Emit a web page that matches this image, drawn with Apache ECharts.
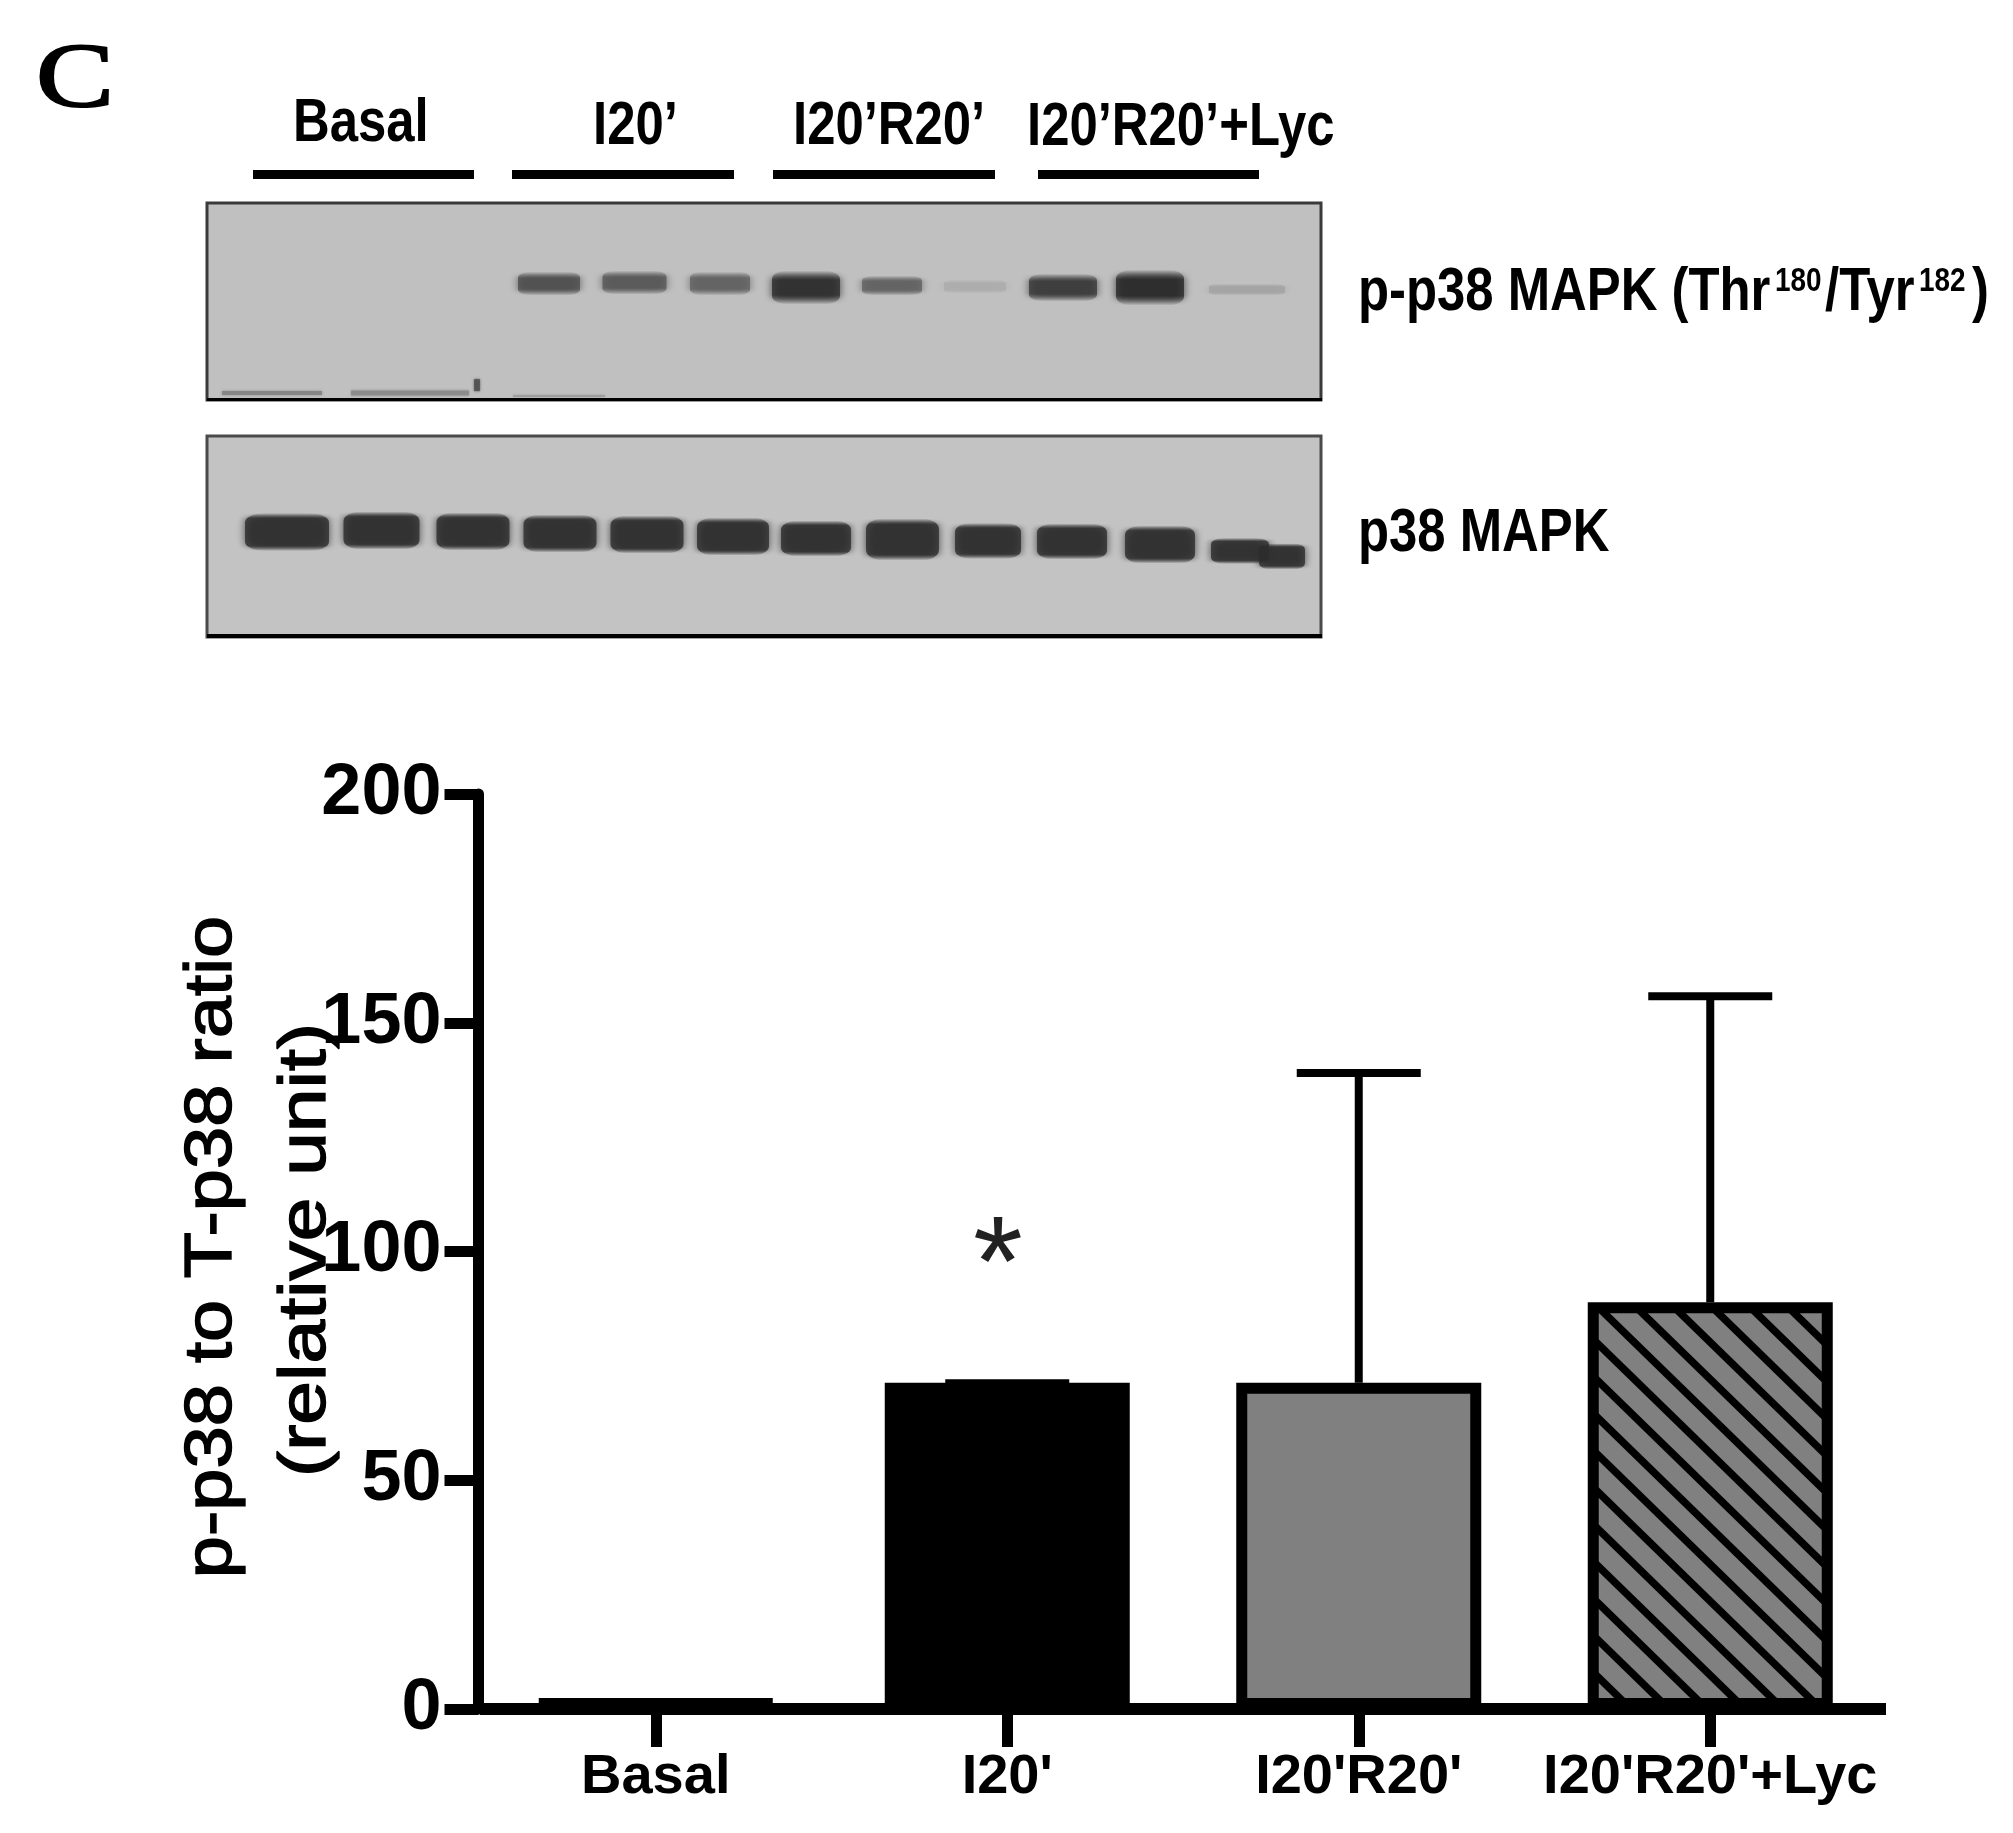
<!DOCTYPE html>
<html>
<head>
<meta charset="utf-8">
<style>html,body{margin:0;padding:0;background:#fff}#c{width:2013px;height:1833px;filter:blur(0.6px)}</style>
<script src="https://cdn.jsdelivr.net/npm/echarts@6/dist/echarts.min.js"></script>
</head>
<body>
<div id="c"></div>
<script>
// ---- bar chart data ----
var categories = ['Basal', "I20'", "I20'R20'", "I20'R20'+Lyc"];
var ratioMean = [2.4, 71.3, 71.3, 88.9];
var ratioUpper = [null, 71.2, 139, 155.8];
var yTicks = [0, 50, 100, 150, 200];

// ---- blot data (gel coordinates) ----
var phosphoLane = [342, 427.5, 513, 599, 685, 768, 856, 943, 1040];
var phosphoMigration = [81, 80, 81, 85, 83, 84, 85, 85, 87];
var phosphoDensity = [0.70, 0.64, 0.58, 0.90, 0.58, 0.12, 0.82, 0.92, 0.18];
var phosphoSpread = [62, 64, 60, 68, 60, 62, 68, 68, 76];
var phosphoThick = [24, 24, 24, 34, 20, 14, 28, 36, 12];

var smearLane = [65, 203, 352, 270];
var smearMigration = [191, 191, 194, 183];
var smearDensity = [0.38, 0.34, 0.24, 0.7];
var smearSpread = [100, 118, 92, 6];
var smearThick = [4, 5, 2, 12];

var totalLane = [80, 174.5, 266, 353, 440, 526, 609, 695.5, 781, 865, 953, 1033, 1075];
var totalMigration = [96.5, 95, 96, 98, 99, 101, 103, 104, 105.5, 106, 109, 115.5, 121];
var totalDensity = [0.9, 0.9, 0.9, 0.9, 0.9, 0.9, 0.9, 0.9, 0.9, 0.9, 0.9, 0.9, 0.9];
var totalSpread = [84, 76, 73, 73, 73, 72, 70, 73, 66, 70, 70, 58, 46];
var totalThick = [38, 38, 38, 38, 38, 38, 36, 42, 36, 36, 38, 26, 26];

function shadeValue(d) { return Math.round(192 - d * 165); }
function bands(lane, mig, dens, spread, thick, core) {
  return lane.map(function (x, i) {
    var v = shadeValue(dens[i]);
    var on = 'rgb(' + v + ',' + v + ',' + v + ')';
    var off = 'rgba(' + v + ',' + v + ',' + v + ',0)';
    return {
      value: [x, mig[i]],
      symbolSize: [spread[i], thick[i]],
      itemStyle: {
        color: { type: 'linear', x: 0, y: 0, x2: 0, y2: 1, colorStops: [
          { offset: 0, color: off }, { offset: core, color: on },
          { offset: 1 - core, color: on }, { offset: 1, color: off }
        ] },
        shadowColor: on, shadowBlur: 8
      }
    };
  });
}
function flat(lane, mig, dens, spread, thick) {
  return lane.map(function (x, i) {
    var v = shadeValue(dens[i]);
    var c = 'rgb(' + v + ',' + v + ',' + v + ')';
    return { value: [x, mig[i]], symbolSize: [spread[i], thick[i]], itemStyle: { color: c, shadowColor: c, shadowBlur: 3 } };
  });
}

// hatch tile
function hatch() {
  var W = 38, H = 37, off = 10;
  var c = document.createElement('canvas');
  c.width = W; c.height = H;
  var g = c.getContext('2d');
  g.fillStyle = '#808080';
  g.fillRect(0, 0, W, H);
  g.strokeStyle = '#000';
  g.lineWidth = 7.5;
  for (var k = -2; k <= 2; k++) {
    g.beginPath();
    g.moveTo(-W, -H + off + k * H);
    g.lineTo(2 * W, 2 * H + off + k * H);
    g.stroke();
  }
  return c;
}
var barFills = ['#000000', '#000000', '#808080', { image: hatch(), repeat: 'repeat' }];

var SANS = '"Liberation Sans", Arial, sans-serif';
var NARROW = 0.82;
var BASE = 0.31; // distance from mid-box to baseline, in em

function label(text, xLeft, baseline, size, sx, opts) {
  opts = opts || {};
  var st = {
    text: text, fill: opts.fill || '#000', fontFamily: opts.family || SANS,
    fontSize: size, fontWeight: opts.weight || 'bold',
    textAlign: 'left', textVerticalAlign: 'middle'
  };
  if (opts.stroke) { st.stroke = '#000'; st.lineWidth = opts.stroke; }
  return { type: 'text', x: xLeft, y: baseline - BASE * size, scaleX: sx, z: 20, style: st };
}
function rotated(text, baselineX, centerY, size, sx) {
  return {
    type: 'text', x: baselineX - BASE * size, y: centerY, rotation: Math.PI / 2, scaleX: sx, z: 20,
    style: {
      text: text, fill: '#000', fontFamily: SANS, fontSize: size,
      textAlign: 'center', textVerticalAlign: 'middle',
      stroke: '#000', lineWidth: 1.4
    }
  };
}
function rule(x0, x1, y, h) {
  return { type: 'rect', z: 10, shape: { x: x0, y: y, width: x1 - x0, height: h }, style: { fill: '#000' } };
}

var blotAxis = function (idx, w, h) {
  return {
    x: { type: 'value', gridIndex: idx, min: 0, max: w, show: false },
    y: { type: 'value', gridIndex: idx, min: 0, max: h, inverse: true, show: false }
  };
};
var a1 = blotAxis(1, 1114, 198), a2 = blotAxis(2, 1114, 202);

var chart = echarts.init(document.getElementById('c'), null, { renderer: 'canvas' });
chart.setOption({
  animation: false,
  backgroundColor: '#ffffff',
  grid: [
    { left: 480, top: 794, width: 1406, height: 915 },
    { left: 207, top: 203, width: 1114, height: 197, show: true, backgroundColor: '#c0c0c0', borderColor: '#3a3a3a', borderWidth: 3 },
    { left: 207, top: 436, width: 1114, height: 201, show: true, backgroundColor: '#c3c3c3', borderColor: '#4a4a4a', borderWidth: 3 }
  ],
  xAxis: [
    {
      type: 'category', gridIndex: 0, data: categories,
      axisLine: { lineStyle: { color: '#000', width: 12, cap: 'butt' } },
      axisTick: { show: true, alignWithLabel: true, length: 38, lineStyle: { color: '#000', width: 11 } },
      axisLabel: { color: '#000', fontFamily: SANS, fontWeight: 'bold', fontSize: 56, margin: 41, interval: 0 }
    },
    a1.x, a2.x
  ],
  yAxis: [
    {
      type: 'value', gridIndex: 0, min: 0, max: 200, interval: 50, offset: 1.5,
      axisLine: { show: true, lineStyle: { color: '#000', width: 11 } },
      axisTick: { show: true, length: 34, lineStyle: { color: '#000', width: 11 } },
      splitLine: { show: false },
      axisLabel: { color: '#000', fontFamily: SANS, fontWeight: 'bold', fontSize: 72, margin: 37,
        formatter: function (v) { return yTicks.indexOf(v) >= 0 ? String(v) : ''; } }
    },
    a1.y, a2.y
  ],
  series: [
    {
      type: 'bar', xAxisIndex: 0, yAxisIndex: 0, barWidth: 245, z: 3,
      data: ratioMean.map(function (v, i) {
        return { value: v, itemStyle: { color: barFills[i], borderColor: '#000', borderWidth: 11 } };
      })
    },
    {
      type: 'custom', xAxisIndex: 0, yAxisIndex: 0, z: 2,
      data: ratioUpper.map(function (u, i) { return [i, ratioMean[i], u === null ? '-' : u]; }),
      encode: { x: 0, y: [1, 2] },
      renderItem: function (params, api) {
        var upper = api.value(2);
        if (isNaN(upper)) { return null; }
        var base = api.coord([api.value(0), api.value(1)]);
        var top = api.coord([api.value(0), upper]);
        return {
          type: 'group',
          children: [
            { type: 'rect', shape: { x: base[0] - 4, y: top[1], width: 8, height: Math.max(0, base[1] - top[1]) }, style: { fill: '#000' } },
            { type: 'rect', shape: { x: base[0] - 62, y: top[1] - 4, width: 124, height: 8 }, style: { fill: '#000' } }
          ]
        };
      }
    },
    {
      type: 'scatter', xAxisIndex: 1, yAxisIndex: 1, symbol: 'roundRect', silent: true,
      data: bands(phosphoLane, phosphoMigration, phosphoDensity, phosphoSpread, phosphoThick, 0.28)
    },
    {
      type: 'scatter', xAxisIndex: 1, yAxisIndex: 1, symbol: 'rect', silent: true,
      data: flat(smearLane, smearMigration, smearDensity, smearSpread, smearThick)
    },
    {
      type: 'scatter', xAxisIndex: 2, yAxisIndex: 2, symbol: 'roundRect', silent: true,
      data: bands(totalLane, totalMigration, totalDensity, totalSpread, totalThick, 0.14)
    }
  ],
  graphic: { elements: [
    label('C', 36, 110, 90, 1.3, { family: '"Liberation Serif", serif', weight: 'normal', stroke: 2 }),
    label('Basal', 293, 143, 62, NARROW),
    label('I20\u2019', 593, 146, 62, NARROW),
    label('I20\u2019R20\u2019', 793, 146, 62, NARROW),
    label('I20\u2019R20\u2019+Lyc', 1027, 147, 62, NARROW),
    rule(253, 474, 170, 9), rule(512, 734, 170, 9), rule(773, 995, 170, 9), rule(1038, 1259, 170, 9),
    rule(207, 1322, 398, 3), rule(207, 1322, 634, 4),
    label('p-p38 MAPK (Thr', 1358, 312, 62, NARROW),
    label('180', 1775, 292, 34, NARROW),
    label('/Tyr', 1825, 312, 62, NARROW),
    label('182', 1919, 292, 34, NARROW),
    label(')', 1972, 312, 62, NARROW),
    label('p38 MAPK', 1358, 553, 62, NARROW),
    rotated('p-p38 to T-p38 ratio', 233, 1247, 66, 1.15),
    rotated('(relative unit)', 327, 1250, 66, 1.19),
    { type: 'text', x: 998, y: 1270, z: 20, style: { text: '*', fill: '#222', fontFamily: SANS, fontSize: 128, textAlign: 'center', textVerticalAlign: 'middle' } }
  ] }
});
</script>
</body>
</html>
